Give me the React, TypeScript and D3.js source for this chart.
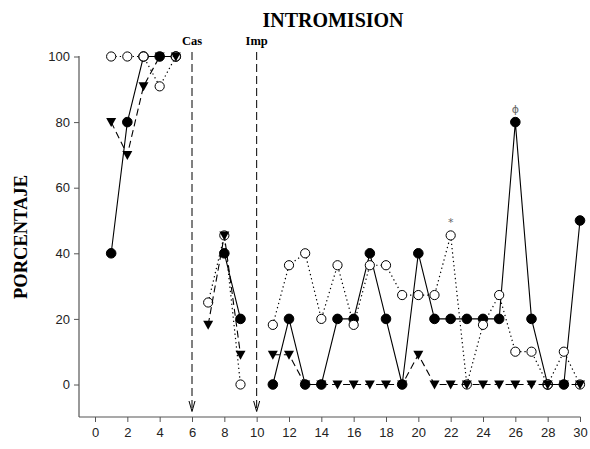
import React, { useEffect, useRef } from "react";
import * as d3 from "d3";

// Sessions (x axis) and percentages per group; null = no session (gap in line)
const days: number[] = Array.from({ length: 30 }, (_, i) => i + 1);

const filledCircles: (number | null)[] = [
  40, 80, 100, 100, 100, null, null, 40, 20, null,
  0, 20, 0, 0, 20, 20, 40, 20, 0, 40,
  20, 20, 20, 20, 20, 80, 20, 0, 0, 50,
];

const openCircles: (number | null)[] = [
  100, 100, 100, 90.9, 100, null, 25, 45.45, 0, null,
  18.18, 36.36, 40, 20, 36.36, 18.18, 36.36, 36.36, 27.27, 27.27,
  27.27, 45.45, 0, 18.18, 27.27, 10, 10, 0, 10, 0,
];

const triangles: (number | null)[] = [
  80, 70, 90.9, 100, 100, null, 18.18, 45.45, 9.09, null,
  9.09, 9.09, 0, 0, 0, 0, 0, 0, 0, 9.09,
  0, 0, 0, 0, 0, 0, 0, 0, 0, 0,
];

const yTicks = [0, 20, 40, 60, 80, 100];
const xTicks = d3.range(0, 31, 2);

const events = [
  { day: 6, label: "Cas" },
  { day: 10, label: "Imp" },
];

const notes = [
  { day: 22, value: 45.45, text: "*" },
  { day: 26, value: 80, text: "ϕ" },
];

const W = 590;
const H = 449;

export default function App() {
  const axisRef = useRef<SVGGElement>(null);

  const x = d3.scaleLinear().domain([0, 30]).range([95, 580]);
  const y = d3.scaleLinear().domain([0, 100]).range([384.5, 56.5]);
  const axisLeftX = 79;
  const axisBottomY = 417;

  useEffect(() => {
    const g = d3.select(axisRef.current);
    g.selectAll("*").remove();

    const left = g
      .append("g")
      .attr("transform", `translate(${axisLeftX},0)`)
      .call(d3.axisLeft(y).tickValues(yTicks).tickSize(5).tickPadding(4).tickFormat(d3.format("d")));
    left.select(".domain").remove();

    const bottom = g
      .append("g")
      .attr("transform", `translate(0,${axisBottomY})`)
      .call(d3.axisBottom(x).tickValues(xTicks).tickSize(5).tickPadding(6).tickFormat(d3.format("d")));
    bottom.select(".domain").remove();

    g.selectAll(".tick line").attr("stroke", "#555").attr("stroke-width", 1);
    g.selectAll(".tick text")
      .attr("fill", "#222")
      .attr("font-family", "Liberation Sans, Arial, sans-serif")
      .attr("font-size", 13);

    g.append("line")
      .attr("x1", axisLeftX).attr("x2", axisLeftX)
      .attr("y1", 56).attr("y2", axisBottomY)
      .attr("stroke", "#555").attr("stroke-width", 1.2);
    g.append("line")
      .attr("x1", axisLeftX).attr("x2", 580.5)
      .attr("y1", axisBottomY).attr("y2", axisBottomY)
      .attr("stroke", "#555").attr("stroke-width", 1.2);
  }, []);

  const lineGen = d3
    .line<number>()
    .defined((_, i, arr) => arr[i] !== null)
    .x((_, i) => x(days[i]))
    .y((v) => y(v as number));

  const pathFor = (vals: (number | null)[]) => lineGen(vals as number[]) || "";

  const tri = "M-5,-4L5,-4L0,5Z";

  return (
    <svg width={W} height={H} style={{ position: "absolute", left: 0, top: 0, background: "#fff" }}>
      <rect width={W} height={H} fill="#fff" />

      <text x={333} y={27} textAnchor="middle" fontFamily="Liberation Serif, Times New Roman, serif"
        fontWeight="bold" fontSize={20}>INTROMISION</text>

      <text transform="translate(27,237) rotate(-90)" textAnchor="middle"
        fontFamily="Liberation Serif, Times New Roman, serif" fontWeight="bold" fontSize={18.5}>PORCENTAJE</text>

      {events.map((e) => {
        const ex = x(e.day);
        return (
          <g key={e.label}>
            <text x={ex} y={45} textAnchor="middle" fontFamily="Liberation Serif, Times New Roman, serif"
              fontWeight="bold" fontSize={12.5}>{e.label}</text>
            <line x1={ex} x2={ex} y1={52} y2={410} stroke="#000" strokeWidth={1} strokeDasharray="8,4" />
            <path d={`M${ex - 3},${401}L${ex},${411.5}L${ex + 3},${401}`} fill="none" stroke="#000" strokeWidth={1} />
          </g>
        );
      })}

      <g ref={axisRef} />

      {/* filled circles, solid line */}
      <path d={pathFor(filledCircles)} fill="none" stroke="#000" strokeWidth={1.1} />
      {filledCircles.map((v, i) =>
        v === null ? null : <circle key={`f${i}`} cx={x(days[i])} cy={y(v)} r={4.8} fill="#000" stroke="#000" />
      )}

      {/* open circles, dotted line */}
      <path d={pathFor(openCircles)} fill="none" stroke="#000" strokeWidth={1.2} strokeDasharray="1.3,3" />
      {openCircles.map((v, i) =>
        v === null ? null : <circle key={`o${i}`} cx={x(days[i])} cy={y(v)} r={4.6} fill="#fff" stroke="#000" strokeWidth={1} />
      )}

      {/* triangles, dashed line */}
      <path d={pathFor(triangles)} fill="none" stroke="#000" strokeWidth={1.1} strokeDasharray="7,4" />
      {triangles.map((v, i) =>
        v === null ? null : (
          <path key={`t${i}`} d={tri} transform={`translate(${x(days[i])},${y(v)})`} fill="#000" />
        )
      )}

      {notes.map((n) => (
        <text key={n.text} x={x(n.day)} y={y(n.value) - 9} textAnchor="middle" fill="#666"
          fontFamily="DejaVu Sans, sans-serif" fontSize={11}>{n.text}</text>
      ))}
    </svg>
  );
}
